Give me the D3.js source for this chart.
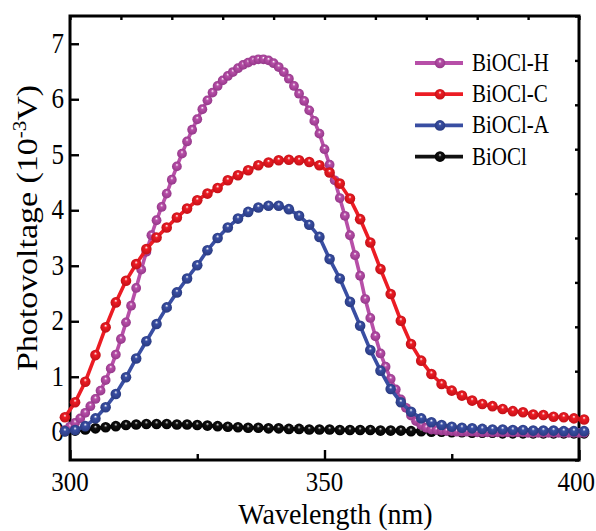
<!DOCTYPE html>
<html>
<head>
<meta charset="utf-8">
<script src="https://cdn.jsdelivr.net/npm/d3@7"></script>
<style>
  body { margin: 0; background: #fff; }
  svg { display: block; }
  text { font-family: "Liberation Serif", "Times New Roman", serif; fill: #000; }
</style>
</head>
<body>
<div id="chart"></div>
<script>
// wavelength grids (nm)
const wl2 = [299, 301, 303, 305, 307, 309, 311, 313, 315, 317, 319, 321, 323, 325, 327, 329, 331, 333,
  335, 337, 339, 341, 343, 345, 347, 349, 351, 353, 355, 357, 359, 361, 363, 365, 367, 369, 371, 373,
  375, 377, 379, 381, 383, 385, 387, 389, 391, 393, 395, 397, 399, 401];
const wl1 = [299, 300, 301, 302, 303, 304, 305, 306, 307, 308, 309, 310, 311, 312, 313, 314, 315, 316,
  317, 318, 319, 320, 321, 322, 323, 324, 325, 326, 327, 328, 329, 330, 331, 332, 333, 334, 335, 336,
  337, 338, 339, 340, 341, 342, 343, 344, 345, 346, 347, 348, 349, 350, 351, 352, 353, 354, 355, 356,
  357, 358, 359, 360, 361, 362, 363, 364, 365, 366, 367, 368, 369, 370, 371, 372, 373, 374, 375, 376,
  377, 378, 379, 380, 381, 382, 383, 384, 385, 386, 387, 388, 389, 390, 391, 392, 393, 394, 395, 396,
  397, 398, 399, 400, 401];

// photovoltage (10^-3 V)
const biocl = [0.02, 0.03, 0.05, 0.07, 0.09, 0.11, 0.13, 0.14, 0.15, 0.15, 0.15, 0.14, 0.14, 0.13,
  0.12, 0.11, 0.10, 0.09, 0.08, 0.08, 0.07, 0.07, 0.06, 0.06, 0.05, 0.05, 0.05, 0.04, 0.04, 0.04,
  0.04, 0.03, 0.03, 0.03, 0.02, 0.02, 0.01, 0.01, 0.00, 0.00, -0.01, -0.01, -0.01, -0.02, -0.02,
  -0.02, -0.02, -0.02, -0.02, -0.02, -0.02, -0.02];
const bioclH = [0.04, 0.10, 0.17, 0.25, 0.35, 0.47, 0.60, 0.75, 0.94, 1.15, 1.40, 1.68, 1.98, 2.28,
  2.60, 2.93, 3.25, 3.55, 3.82, 4.06, 4.30, 4.55, 4.79, 5.02, 5.24, 5.45, 5.64, 5.82, 5.98, 6.12,
  6.24, 6.34, 6.42, 6.49, 6.56, 6.62, 6.66, 6.70, 6.72, 6.72, 6.70, 6.65, 6.58, 6.49, 6.37, 6.24,
  6.10, 5.97, 5.80, 5.61, 5.38, 5.10, 4.82, 4.54, 4.22, 3.90, 3.55, 3.19, 2.82, 2.40, 2.06, 1.73,
  1.42, 1.18, 0.96, 0.77, 0.59, 0.44, 0.30, 0.20, 0.13, 0.08, 0.05, 0.04, 0.03, 0.02, 0.02, 0.01,
  0.01, 0.01, 0.01, 0.00, 0.00, 0.00, 0.00, 0.00, 0.00, 0.00, 0.00, 0.00, 0.00, -0.01, -0.01, -0.01,
  -0.01, -0.01, -0.01, -0.01, -0.01, -0.01, -0.01, -0.01, -0.01];
const bioclC = [0.27, 0.54, 0.91, 1.39, 1.89, 2.34, 2.73, 3.03, 3.30, 3.51, 3.69, 3.87, 4.03, 4.18,
  4.30, 4.40, 4.54, 4.63, 4.72, 4.81, 4.86, 4.90, 4.91, 4.90, 4.87, 4.81, 4.68, 4.48, 4.21, 3.84,
  3.42, 2.94, 2.49, 2.01, 1.59, 1.29, 1.05, 0.87, 0.75, 0.66, 0.57, 0.51, 0.47, 0.42, 0.38, 0.36,
  0.32, 0.31, 0.28, 0.27, 0.25, 0.23];
const bioclA = [0.02, 0.04, 0.11, 0.25, 0.45, 0.69, 0.99, 1.33, 1.64, 1.95, 2.25, 2.52, 2.77, 3.01,
  3.28, 3.50, 3.69, 3.85, 3.97, 4.05, 4.08, 4.08, 4.02, 3.90, 3.74, 3.52, 3.12, 2.77, 2.35, 1.92,
  1.48, 1.11, 0.78, 0.54, 0.37, 0.25, 0.18, 0.13, 0.10, 0.08, 0.07, 0.06, 0.05, 0.05, 0.04, 0.04,
  0.03, 0.03, 0.03, 0.02, 0.02, 0.02];

const xMajor = [300, 350, 400];
const xMinor = [325, 375];
const yTicks = [0, 1, 2, 3, 4, 5, 6, 7];

const width = 596;
const height = 531;
const margin = { top: 16, right: 17, bottom: 71, left: 70 };
const stretch = 1.17; // glyphs in the original are a bit taller than wide

const series = [
  { id: "b0", name: "BiOCl", color: "#111111", dark: "#000000", hi: "#e0e0e0", wl: wl2, values: biocl, r: 5.3 },
  { id: "bh", name: "BiOCl-H", color: "#b74fa8", dark: "#923687", hi: "#ffffff", wl: wl1, values: bioclH, r: 4.9 },
  { id: "bc", name: "BiOCl-C", color: "#ec1c24", dark: "#bf0f16", hi: "#ffffff", wl: wl2, values: bioclC, r: 5.3 },
  { id: "ba", name: "BiOCl-A", color: "#394ea2", dark: "#28397f", hi: "#ffffff", wl: wl2, values: bioclA, r: 5.3 },
];
const legendOrder = ["BiOCl-H", "BiOCl-C", "BiOCl-A", "BiOCl"];

const svg = d3.select("#chart").append("svg")
  .attr("width", width)
  .attr("height", height);

const x = d3.scaleLinear().domain([300, 400]).range([margin.left, width - margin.right]);
const y = d3.scaleLinear().domain([-0.5, 7.5]).range([height - margin.bottom, margin.top]);
// right axis just splits the frame into ten parts
const yRight = d3.scaleLinear().domain([0, 10]).range([height - margin.bottom, margin.top]);

// shaded ball markers
const defs = svg.append("defs");
series.forEach((s) => {
  const g = defs.append("radialGradient")
    .attr("id", "grad-" + s.id)
    .attr("cx", "50%").attr("cy", "50%").attr("r", "55%")
    .attr("fx", "50%").attr("fy", "32%");
  g.append("stop").attr("offset", "0%").attr("stop-color", s.hi);
  g.append("stop").attr("offset", "28%").attr("stop-color", s.color);
  g.append("stop").attr("offset", "100%").attr("stop-color", s.dark);
});

function ticksGroup(axis, transform) {
  const g = svg.append("g").attr("transform", transform).call(axis);
  g.select(".domain").remove();
  g.selectAll(".tick line").attr("stroke", "#000").attr("stroke-width", 2.4);
  g.selectAll(".tick text").remove();
  return g;
}

const bottomY = height - margin.bottom;
const rightX = width - margin.right;

ticksGroup(d3.axisBottom(x).tickValues(xMajor).tickSize(-10).tickSizeOuter(0), `translate(0,${bottomY})`);
ticksGroup(d3.axisBottom(x).tickValues(xMinor).tickSize(-6).tickSizeOuter(0), `translate(0,${bottomY})`);
ticksGroup(d3.axisTop(x).ticks(10).tickSize(-4).tickSizeOuter(0), `translate(0,${margin.top})`);
ticksGroup(d3.axisLeft(y).tickValues(yTicks).tickSize(-9).tickSizeOuter(0), `translate(${margin.left},0)`);
ticksGroup(d3.axisRight(yRight).ticks(10).tickSize(-4).tickSizeOuter(0), `translate(${rightX},0)`);

svg.append("rect")
  .attr("x", margin.left)
  .attr("y", margin.top)
  .attr("width", rightX - margin.left)
  .attr("height", bottomY - margin.top)
  .attr("fill", "none")
  .attr("stroke", "#000")
  .attr("stroke-width", 3);

// tick labels
const xLabelY = 491;
const xLabels = svg.append("g").selectAll("text")
  .data(xMajor)
  .join("text")
  .attr("transform", (d) => `translate(${x(d)},${xLabelY}) scale(1,1.1)`)
  .attr("text-anchor", "middle")
  .style("font-size", "25px")
  .text((d) => d);

// keep the last label inside the page
xLabels.each(function (d) {
  const box = this.getBBox();
  const over = x(d) + box.width / 2 - (width - 1);
  if (over > 0) {
    d3.select(this).attr("transform", `translate(${x(d) - over},${xLabelY}) scale(1,1.1)`);
  }
});

svg.append("g").selectAll("text")
  .data(yTicks)
  .join("text")
  .attr("transform", (d) => `translate(${margin.left - 6},${y(d) + 9}) scale(1,${stretch})`)
  .attr("text-anchor", "end")
  .style("font-size", "25px")
  .text((d) => d);

// axis titles
svg.append("text")
  .attr("transform", `translate(${(margin.left + rightX) / 2 + 11},524) scale(1,1.05)`)
  .attr("text-anchor", "middle")
  .style("font-size", "28px")
  .text("Wavelength (nm)");

const yTitle = svg.append("text")
  .attr("transform", `translate(37,228) scale(1,${stretch}) rotate(-90)`)
  .attr("text-anchor", "middle")
  .style("font-size", "29px");
yTitle.append("tspan").text("Photovoltage (10");
yTitle.append("tspan").attr("dy", -11).style("font-size", "18px").text("-3");
yTitle.append("tspan").attr("dy", 11).text("V)");

// curves
const line = d3.line()
  .x((d) => x(d[0]))
  .y((d) => y(d[1]));

series.forEach((s) => {
  const pts = s.wl.map((w, i) => [w, s.values[i]]);
  const g = svg.append("g").attr("class", "series");
  g.append("path")
    .datum(pts)
    .attr("fill", "none")
    .attr("stroke", s.color)
    .attr("stroke-width", 3.6)
    .attr("d", line);
  g.selectAll("circle")
    .data(pts)
    .join("circle")
    .attr("cx", (d) => x(d[0]))
    .attr("cy", (d) => y(d[1]))
    .attr("r", s.r)
    .attr("fill", `url(#grad-${s.id})`);
});

// legend
const legend = svg.append("g").attr("transform", "translate(415,63)");
const rowH = 31.2;
legendOrder.forEach((name, i) => {
  const s = series.find((d) => d.name === name);
  const row = legend.append("g").attr("transform", `translate(0,${i * rowH})`);
  row.append("line")
    .attr("x1", 0).attr("x2", 48)
    .attr("stroke", s.color)
    .attr("stroke-width", 3.8);
  row.append("circle")
    .attr("cx", 25).attr("r", 5.3)
    .attr("fill", `url(#grad-${s.id})`);
  row.append("text")
    .attr("transform", `translate(57,8) scale(1,${stretch})`)
    .style("font-size", "21px")
    .text(name);
});
</script>
</body>
</html>
